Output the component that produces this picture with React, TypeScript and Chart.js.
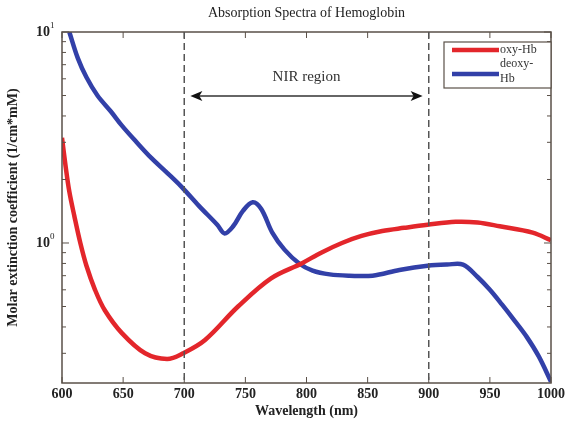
import React, { useEffect, useRef } from "react";
import { Chart, registerables } from "chart.js";
Chart.register(...registerables);

const oxyWavelengths = [600, 603, 606, 610, 615, 620, 627, 635, 649, 668, 686, 699, 717, 744, 771, 796, 812, 829, 845, 862, 880, 899, 922, 940, 958, 985, 1000];
const oxyHb = [3.15, 2.3, 1.75, 1.35, 1.0, 0.78, 0.6, 0.48, 0.374, 0.3, 0.282, 0.3, 0.347, 0.5, 0.68, 0.8, 0.9, 1.0, 1.08, 1.14, 1.18, 1.22, 1.26, 1.25, 1.2, 1.12, 1.03];

const deoxyWavelengths = [606, 613, 620, 629, 640, 649, 660, 673, 686, 698, 712, 727, 733, 740, 748, 756, 763, 772, 782, 794, 805, 819, 835, 854, 876, 899, 915, 928, 940, 950, 960, 970, 980, 990, 1000];
const deoxyHb = [10, 7.5, 6.1, 5.0, 4.2, 3.6, 3.05, 2.53, 2.15, 1.84, 1.5, 1.22, 1.11, 1.2, 1.42, 1.56, 1.45, 1.12, 0.93, 0.8, 0.74, 0.71, 0.7, 0.7, 0.745, 0.78, 0.79, 0.79, 0.69, 0.6, 0.51, 0.43, 0.36, 0.29, 0.22];

const xTicks = [600, 650, 700, 750, 800, 850, 900, 950, 1000];
const yMinorTicks = [0.3, 0.4, 0.5, 0.6, 0.7, 0.8, 0.9, 2, 3, 4, 5, 6, 7, 8, 9];
const yMajorTicks = [1, 10];
const nirBounds = [700, 900];

const SERIF = "'Liberation Serif', 'DejaVu Serif', serif";
const AXIS = "#5a5048";

const overlay = {
  id: "overlay",
  afterDraw(chart: any) {
    const { ctx, chartArea: a, scales } = chart;
    const xs = scales.x, ys = scales.y;
    ctx.save();
    ctx.strokeStyle = AXIS;
    ctx.lineWidth = 1.5;
    ctx.strokeRect(a.left, a.top, a.right - a.left, a.bottom - a.top);
    ctx.lineWidth = 1;
    xTicks.forEach((v) => {
      const px = xs.getPixelForValue(v);
      ctx.beginPath();
      ctx.moveTo(px, a.bottom); ctx.lineTo(px, a.bottom - 6);
      ctx.moveTo(px, a.top); ctx.lineTo(px, a.top + 6);
      ctx.stroke();
    });
    const tick = (v: number, len: number) => {
      const py = ys.getPixelForValue(v);
      ctx.beginPath();
      ctx.moveTo(a.left, py); ctx.lineTo(a.left + len, py);
      ctx.moveTo(a.right, py); ctx.lineTo(a.right - len, py);
      ctx.stroke();
    };
    yMinorTicks.forEach((v) => tick(v, 4));
    yMajorTicks.forEach((v) => tick(v, 7));
    ctx.fillStyle = "#222";
    ctx.textBaseline = "middle";
    yMajorTicks.forEach((v) => {
      const py = ys.getPixelForValue(v);
      ctx.font = `bold 14px ${SERIF}`;
      ctx.textAlign = "right";
      ctx.fillText("10", a.left - 12, py);
      ctx.font = `9px ${SERIF}`;
      ctx.textAlign = "left";
      ctx.fillText(v === 1 ? "0" : "1", a.left - 12, py - 6);
    });
    ctx.strokeStyle = "#555";
    ctx.lineWidth = 1.5;
    ctx.setLineDash([7, 4]);
    nirBounds.forEach((v) => {
      const px = xs.getPixelForValue(v);
      ctx.beginPath(); ctx.moveTo(px, a.top); ctx.lineTo(px, a.bottom); ctx.stroke();
    });
    ctx.setLineDash([]);
    const x1 = xs.getPixelForValue(705), x2 = xs.getPixelForValue(895), ay = 96;
    ctx.strokeStyle = "#333";
    ctx.lineWidth = 1.5;
    ctx.beginPath(); ctx.moveTo(x1 + 4, ay); ctx.lineTo(x2 - 4, ay); ctx.stroke();
    ctx.fillStyle = "#111";
    ctx.beginPath(); ctx.moveTo(x1, ay); ctx.lineTo(x1 + 12, ay - 5); ctx.lineTo(x1 + 9, ay); ctx.lineTo(x1 + 12, ay + 5); ctx.closePath(); ctx.fill();
    ctx.beginPath(); ctx.moveTo(x2, ay); ctx.lineTo(x2 - 12, ay - 5); ctx.lineTo(x2 - 9, ay); ctx.lineTo(x2 - 12, ay + 5); ctx.closePath(); ctx.fill();
    ctx.font = `15px ${SERIF}`;
    ctx.textAlign = "center";
    ctx.fillStyle = "#333";
    ctx.fillText("NIR region", xs.getPixelForValue(800), 77);
    ctx.font = `14px ${SERIF}`;
    ctx.fillStyle = "#222";
    ctx.fillText("Absorption Spectra of Hemoglobin", (a.left + a.right) / 2, 13);
    ctx.font = `bold 14px ${SERIF}`;
    ctx.fillText("Wavelength (nm)", (a.left + a.right) / 2, 411);
    ctx.save();
    ctx.translate(13, (a.top + a.bottom) / 2);
    ctx.rotate(-Math.PI / 2);
    ctx.fillText("Molar extinction coefficient (1/cm*mM)", 0, 0);
    ctx.restore();
    ctx.fillStyle = "#fff";
    ctx.fillRect(444, 42, 107, 46);
    ctx.strokeStyle = AXIS;
    ctx.lineWidth = 1.2;
    ctx.strokeRect(444, 42, 107, 46);
    ctx.lineWidth = 4.5;
    ctx.strokeStyle = "#e3262b";
    ctx.beginPath(); ctx.moveTo(452, 50); ctx.lineTo(499, 50); ctx.stroke();
    ctx.strokeStyle = "#3240a8";
    ctx.beginPath(); ctx.moveTo(452, 74); ctx.lineTo(499, 74); ctx.stroke();
    ctx.font = `12px ${SERIF}`;
    ctx.fillStyle = "#333";
    ctx.textAlign = "left";
    ctx.fillText("oxy-Hb", 500, 50);
    ctx.fillText("deoxy-", 500, 64);
    ctx.fillText("Hb", 500, 79);
    ctx.restore();
  },
};

export default function App() {
  const ref = useRef<HTMLCanvasElement>(null);
  useEffect(() => {
    document.body.style.margin = "0";
    const chart = new Chart(ref.current!, {
      type: "line",
      data: {
        datasets: [
          {
            label: "oxy-Hb",
            data: oxyWavelengths.map((x, i) => ({ x, y: oxyHb[i] })),
            borderColor: "#e3262b",
            borderWidth: 4.5,
            pointRadius: 0,
            tension: 0.35,
          },
          {
            label: "deoxy-Hb",
            data: deoxyWavelengths.map((x, i) => ({ x, y: deoxyHb[i] })),
            borderColor: "#3240a8",
            borderWidth: 4.5,
            pointRadius: 0,
            tension: 0.35,
          },
        ],
      },
      options: {
        responsive: false,
        animation: false,
        layout: { padding: { left: 0, top: 32, right: 16, bottom: 0 } },
        plugins: { legend: { display: false }, tooltip: { enabled: false } },
        scales: {
          x: {
            type: "linear",
            min: 600,
            max: 1000,
            grid: { display: false, drawTicks: false },
            border: { display: false },
            afterBuildTicks: (s: any) => { s.ticks = xTicks.map((v) => ({ value: v })); },
            afterFit: (s: any) => { s.height = 42; },
            ticks: { color: "#222", font: { family: SERIF, size: 14, weight: "bold" }, padding: 3, maxRotation: 0, callback: (v: any) => String(v) },
          },
          y: {
            type: "logarithmic",
            min: 0.217,
            max: 10,
            grid: { display: false, drawTicks: false },
            border: { display: false },
            ticks: { display: false },
            afterFit: (s: any) => { s.width = 62; },
          },
        },
      },
      plugins: [overlay],
    });
    return () => chart.destroy();
  }, []);
  return <canvas ref={ref} width={568} height={425} />;
}
